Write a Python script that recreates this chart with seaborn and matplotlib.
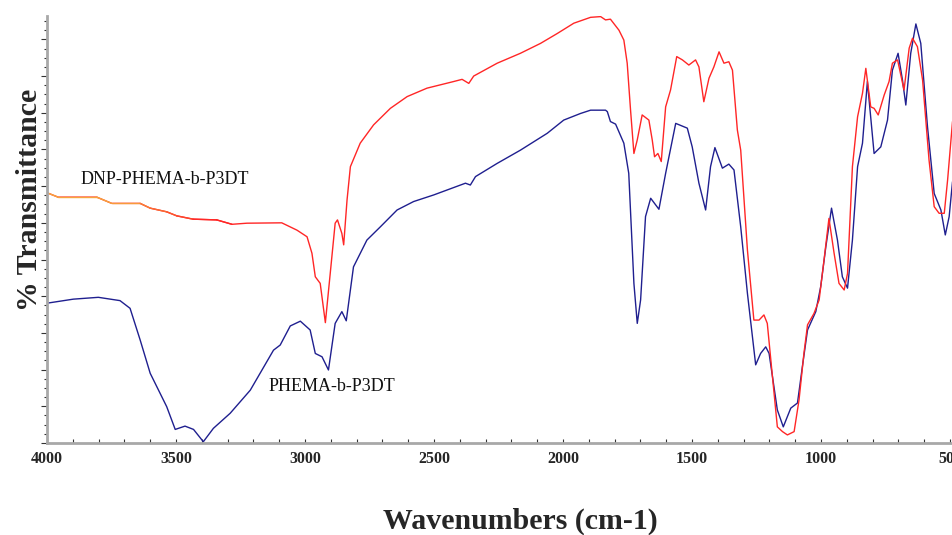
import numpy as np
import pandas as pd
import matplotlib
matplotlib.use("Agg")
import matplotlib.pyplot as plt
import seaborn as sns
from matplotlib.ticker import MultipleLocator
from matplotlib.colors import to_rgb

# ---- data (wavenumber cm-1, transmittance a.u.) ----
red_w = [4000, 3957, 3807, 3749, 3639, 3600, 3536, 3497, 3434, 3342, 3283, 3225,
         3090, 3031, 2992, 2973, 2960, 2941, 2921, 2902, 2883, 2874, 2857, 2850,
         2837, 2824, 2786, 2734, 2669, 2604, 2527, 2424, 2391, 2365, 2346, 2255,
         2165, 2087, 2022, 1958, 1893, 1854, 1835, 1816, 1783, 1764, 1751, 1738,
         1725, 1712, 1693, 1667, 1654, 1645, 1632, 1619, 1602, 1583, 1559, 1537,
         1512, 1486, 1473, 1454, 1434, 1415, 1395, 1376, 1357, 1343, 1324, 1311,
         1285, 1260, 1240, 1221, 1208, 1188, 1169, 1149, 1130, 1104, 1085, 1066,
         1052, 1027, 1007, 988, 969, 949, 930, 910, 897, 878, 858, 839, 826, 807,
         794, 778, 755, 736, 723, 703, 678, 658, 645, 626, 606, 581, 561, 542,
         522, 509, 490]
red_t = [68.2, 67.0, 67.0, 65.3, 65.3, 64.0, 63.0, 61.9, 61.0, 60.8, 59.6, 59.9,
         60.0, 58.0, 56.2, 51.7, 45.3, 43.5, 32.8, 46.3, 59.9, 60.8, 57.1, 54.0,
         66.2, 75.3, 81.7, 86.7, 91.2, 94.4, 96.7, 98.5, 99.1, 98.0, 100.0, 103.5,
         106.2, 108.9, 111.6, 114.4, 116.0, 116.2, 115.3, 115.5, 112.5, 109.8, 103.5, 90.7,
         78.9, 82.6, 89.4, 88.0, 82.6, 78.0, 78.9, 76.7, 91.6, 96.2, 105.3, 104.4,
         103.0, 104.4, 102.5, 93.0, 99.4, 102.5, 106.6, 103.5, 103.9, 101.6, 85.3, 79.8,
         52.6, 33.5, 33.5, 34.9, 32.6, 18.1, 4.4, 3.1, 2.2, 3.1, 11.7, 24.4,
         32.2, 35.3, 39.0, 49.9, 61.2, 51.7, 43.5, 41.7, 46.2, 75.3, 88.9, 95.3, 102.1, 91.6,
         91.2, 89.4, 94.8, 98.5, 103.5, 104.4, 96.2, 107.6, 110.3, 108.0, 98.9, 77.1, 64.4, 62.6,
         62.6, 71.7, 87.6]

blue_w = [4000, 3898, 3801, 3717, 3678, 3639, 3600, 3536, 3503, 3465, 3432, 3394,
          3355, 3290, 3212, 3122, 3096, 3057, 3018, 2980, 2960, 2934, 2909, 2883,
          2857, 2840, 2812, 2760, 2708, 2643, 2579, 2501, 2378, 2359, 2339, 2255,
          2165, 2061, 1997, 1932, 1893, 1835, 1828, 1816, 1796, 1764, 1745, 1725,
          1712, 1699, 1680, 1660, 1628, 1602, 1563, 1518, 1499, 1473, 1447, 1428,
          1411, 1382, 1357, 1337, 1311, 1285, 1253, 1234, 1214, 1201, 1169, 1146,
          1117, 1091, 1072, 1052, 1020, 1001, 981, 959, 936, 917, 897, 878, 858,
          839, 820, 794, 768, 742, 723, 701, 684, 671, 652, 632, 613, 587, 561,
          535, 518, 503, 490]
blue_t = [38.1, 39.2, 39.7, 38.8, 36.7, 28.1, 19.0, 9.9, 3.7, 4.6, 3.7, 0.35,
          4.0, 8.1, 14.4, 25.3, 26.7, 31.9, 33.2, 30.8, 24.4, 23.5, 19.9, 32.6,
          35.8, 33.3, 48.0, 55.3, 58.9, 63.5, 65.8, 67.6, 70.8, 70.3, 72.6, 76.2,
          79.8, 84.4, 88.0, 89.8, 90.7, 90.7, 90.3, 87.6, 86.9, 81.7, 73.5, 43.5,
          32.6, 39.0, 61.7, 66.7, 63.7, 73.5, 87.1, 85.8, 80.7, 70.8, 63.5, 75.3,
          80.5, 74.9, 76.0, 74.4, 58.9, 40.8, 21.3, 24.4, 26.2, 24.4, 9.0, 4.4,
          9.5, 10.9, 20.8, 30.8, 35.8, 42.6, 53.5, 64.0, 55.3, 45.3, 42.2, 55.3, 75.3,
          81.7, 98.5, 78.9, 80.7, 88.0, 101.6, 106.2, 98.9, 92.1, 106.2, 114.2, 108.9, 86.2, 68.0,
          63.5, 56.7, 61.7, 71.2]

labels = ["DNP-PHEMA-b-P3DT", "PHEMA-b-P3DT"]
x_ticks = [4000, 3500, 3000, 2500, 2000, 1500, 1000, 500]

RED = "#ff2626"
ORANGE = "#f7a53c"
BLUE = "#1f1f8f"

sns.set_style("white")
plt.rcParams["font.family"] = ["Liberation Serif", "DejaVu Serif"]

fig = plt.figure(figsize=(9.52, 5.35), dpi=100)
ax = fig.add_axes([47 / 952, 92 / 535, 905 / 952, 427.5 / 535])

df_red = pd.DataFrame({"w": red_w, "t": red_t})
df_blue = pd.DataFrame({"w": blue_w, "t": blue_t})
sns.lineplot(data=df_blue, x="w", y="t", sort=False, color=BLUE, lw=1.0, ax=ax)
sns.lineplot(data=df_red, x="w", y="t", sort=False, color=RED, lw=1.0, ax=ax)

# orange -> red gradient on the left part of the red trace
c0, c1 = np.array(to_rgb(ORANGE)), np.array(to_rgb(RED))
for i in range(len(red_w) - 1):
    wm = 0.5 * (red_w[i] + red_w[i + 1])
    if wm < 3300:
        break
    f = np.clip((3720 - wm) / (3720 - 3380), 0, 1)
    ax.plot(red_w[i:i + 2], red_t[i:i + 2], color=tuple(c0 * (1 - f) + c1 * f), lw=1.0)

ax.text(3872, 71.7, labels[0], fontsize=13, va="center", ha="left", color="#111111")
ax.text(3142, 15.3, labels[1], fontsize=13, va="center", ha="left", color="#111111")

ax.set_xlim(4000, 492)
ax.set_ylim(0, 116.5)
ax.set_xticks(x_ticks)
ax.set_xticklabels([str(v) for v in x_ticks], fontweight="bold", fontsize=11.5)
ax.xaxis.set_minor_locator(MultipleLocator(100))
ax.yaxis.set_major_locator(MultipleLocator(10))
ax.yaxis.set_minor_locator(MultipleLocator(2.5))
ax.set_yticklabels([])
ax.tick_params(axis="x", which="both", direction="in", length=3, width=0.8,
               color="#333333", pad=6, bottom=True)
ax.tick_params(axis="y", which="major", direction="out", length=4, width=0.8,
               color="#333333", left=True)
ax.tick_params(axis="y", which="minor", direction="out", length=2.5, width=0.8,
               color="#333333", left=True)

for s in ["top", "right"]:
    ax.spines[s].set_visible(False)
for s in ["left", "bottom"]:
    ax.spines[s].set_color("#a8a8a8")
    ax.spines[s].set_linewidth(2)

ax.set_xlabel("Wavenumbers (cm-1)", fontsize=21.5, fontweight="bold")
ax.xaxis.label.set_verticalalignment("center")
ax.xaxis.set_label_coords((520 - 47) / 905, (443 - 521) / 427.5)
ax.set_ylabel("% Transmittance", fontsize=21.5, fontweight="bold")
ax.yaxis.label.set_verticalalignment("center")
ax.yaxis.set_label_coords((30 - 47) / 905, (443 - 200) / 427.5)

fig.savefig("out.png", dpi=100)
